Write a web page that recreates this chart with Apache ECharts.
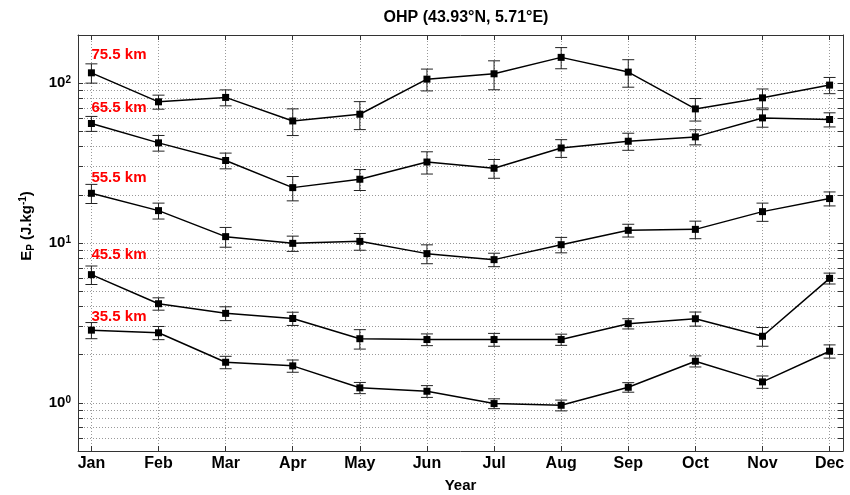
<!DOCTYPE html>
<html><head><meta charset="utf-8">
<script src="https://cdn.jsdelivr.net/npm/echarts@6/dist/echarts.min.js"></script>
<style>html,body{margin:0;padding:0;background:#fff}#c{width:850px;height:495px}</style>
</head><body><div id="c"></div>
<script>
const months = ['Jan','Feb','Mar','Apr','May','Jun','Jul','Aug','Sep','Oct','Nov','Dec'];
const monthIndex = [1,2,3,4,5,6,7,8,9,10,11,12];
const altitudes = ['75.5 km','65.5 km','55.5 km','45.5 km','35.5 km'];

const ep755  = [116, 76.4, 81.4, 58.0, 63.9, 105.9, 114.4, 144.9, 117.2, 69.0, 80.9, 97.2];
const err755 = [16, 7.7, 9.3, 11, 12.7, 16.5, 23.5, 21.9, 22.9, 11.1, 11, 11.3];
const ep655  = [55.9, 42.3, 32.8, 22.2, 25.05, 32.1, 29.35, 39.3, 43.3, 46.1, 60.6, 59.2];
const err655 = [6, 4.75, 3.7, 3.85, 3.75, 5.1, 3.95, 5, 5.3, 5, 7.6, 6];
const ep555  = [20.46, 15.94, 10.96, 9.95, 10.24, 8.58, 7.87, 9.76, 12.0, 12.17, 15.71, 18.96];
const err555 = [2.8, 1.82, 1.55, 1.09, 1.23, 1.16, 0.76, 1.08, 1.1, 1.53, 2.05, 1.9];
const ep455  = [6.34, 4.17, 3.63, 3.37, 2.52, 2.49, 2.49, 2.49, 3.13, 3.36, 2.61, 6.01];
const err455 = [0.84, 0.37, 0.36, 0.32, 0.35, 0.21, 0.23, 0.2, 0.23, 0.34, 0.35, 0.47];
const ep355  = [2.85, 2.745, 1.795, 1.704, 1.242, 1.182, 0.990, 0.966, 1.252, 1.822, 1.353, 2.105];
const err355 = [0.33, 0.26, 0.16, 0.15, 0.1, 0.1, 0.07, 0.075, 0.086, 0.145, 0.12, 0.2];

const labelAnchorY = [150, 69.7, 25.4, 8.49, 3.47];
const yMajorTicks = [1, 10, 100];
const yAllTicks = [0.5,0.6,0.7,0.8,0.9,1,2,3,4,5,6,7,8,9,10,20,30,40,50,60,70,80,90,100,200];

const profiles = [ep755, ep655, ep555, ep455, ep355];
const errors = [err755, err655, err555, err455, err355];

const chart = echarts.init(document.getElementById('c'), null, {renderer:'canvas'});
const FONT = 'Liberation Sans, Arial, Helvetica, sans-serif';

function errRender(params, api) {
  const x = api.value(0), lo = api.value(1), hi = api.value(2);
  const a = api.coord([x, lo]), b = api.coord([x, hi]);
  const hw = 6;
  const st = {stroke:'#222', lineWidth:1};
  return {type:'group', children:[
    {type:'line', shape:{x1:a[0], y1:a[1], x2:b[0], y2:b[1]}, style:st},
    {type:'line', shape:{x1:a[0]-hw, y1:a[1], x2:a[0]+hw, y2:a[1]}, style:st},
    {type:'line', shape:{x1:b[0]-hw, y1:b[1], x2:b[0]+hw, y2:b[1]}, style:st}
  ]};
}

const series = [];
profiles.forEach((vals, k) => {
  series.push({
    type:'custom', renderItem: errRender, z: 3, silent:true,
    encode:{x:0, y:[1,2]},
    data: vals.map((v,i) => [monthIndex[i], v - errors[k][i], v + errors[k][i]])
  });
  series.push({
    type:'line', name: altitudes[k], z: 5, silent:true,
    data: vals.map((v,i) => [monthIndex[i], v]),
    symbol:'rect', symbolSize:7, showSymbol:true,
    itemStyle:{color:'#000'}, lineStyle:{color:'#000', width:1.5}
  });
});
series.push({
  type:'scatter', silent:true, symbolSize:0, z:6,
  itemStyle:{opacity:1},
  data: labelAnchorY.map((y,k) => ({value:[1, y], name: altitudes[k]})),
  label:{show:true, position:'right', distance:0, formatter: p => p.name, opacity:1,
    color:'#ff0000', fontWeight:'bold', fontSize:15, fontFamily:FONT}
});

const option = {
  animation:false,
  backgroundColor:'#fff',
  title:{text:'OHP (43.93°N, 5.71°E)', left:461, top:5, textAlign:'center',
    textStyle:{fontFamily:FONT, fontSize:16, fontWeight:'bold', color:'#000'}},
  grid:{left:78, right:7, top:35, bottom:44, containLabel:false, outerBoundsMode:'none'},
  xAxis:[{
    type:'value', min:0.8, max:12.2, position:'bottom',
    name:'Year', nameLocation:'middle', nameGap:27,
    nameTextStyle:{fontFamily:FONT, fontSize:15, fontWeight:'bold', color:'#000'},
    axisLine:{show:true, lineStyle:{color:'#333', width:1}},
    axisTick:{show:true, inside:true, length:5, customValues: monthIndex, lineStyle:{color:'#333'}},
    axisLabel:{show:true, customValues: monthIndex, margin:5, formatter: v => months[Math.round(v)-1] || '',
      fontFamily:FONT, fontSize:16, fontWeight:'bold', color:'#000'},
    splitLine:{show:true, lineStyle:{color:'#999', type:[1,2], width:1}}
  },{
    type:'value', min:0.8, max:12.2, position:'top',
    axisLine:{show:true, lineStyle:{color:'#333', width:1}},
    axisTick:{show:true, inside:true, length:5, customValues: monthIndex, lineStyle:{color:'#333'}},
    axisLabel:{show:false}, splitLine:{show:false}
  }],
  yAxis:[{
    type:'log', min:0.5, max:200, logBase:10, position:'left',
    axisLine:{show:true, lineStyle:{color:'#333', width:1}},
    axisTick:{show:true, inside:true, length:5, customValues: yAllTicks, lineStyle:{color:'#333'}},
    axisLabel:{show:true, customValues: yMajorTicks, margin:7,
      formatter: v => '{b|10}{s|' + Math.round(Math.log10(v)) + '}',
      rich:{b:{fontFamily:FONT, fontSize:15, fontWeight:'bold', color:'#000'},
            s:{fontFamily:FONT, fontSize:10, fontWeight:'bold', color:'#000', verticalAlign:'top', padding:[0,0,4,0]}}},
    splitLine:{show:true, lineStyle:{color:'#999', type:[1,2], width:1}}
  },{
    type:'log', min:0.5, max:200, logBase:10, position:'right',
    axisLine:{show:true, lineStyle:{color:'#333', width:1}},
    axisTick:{show:true, inside:true, length:5, customValues: yAllTicks, lineStyle:{color:'#333'}},
    axisLabel:{show:false}, splitLine:{show:false}
  }],
  graphic:[{
    type:'text', x:27, y:226, rotation: Math.PI/2, silent:true,
    style:{text:'{e|E}{p|P}{t| (J.kg}{s|-1}{t|)}', align:'center', verticalAlign:'middle',
      rich:{e:{fontFamily:FONT, fontSize:15, fontWeight:'bold', fill:'#000'},
            p:{fontFamily:FONT, fontSize:10, fontWeight:'bold', fill:'#000', verticalAlign:'middle', padding:[8,0,0,0]},
            t:{fontFamily:FONT, fontSize:15, fontWeight:'bold', fill:'#000'},
            s:{fontFamily:FONT, fontSize:10, fontWeight:'bold', fill:'#000', verticalAlign:'top'}}}
  }],
  series: series
};
chart.setOption(option);
</script></body></html>
